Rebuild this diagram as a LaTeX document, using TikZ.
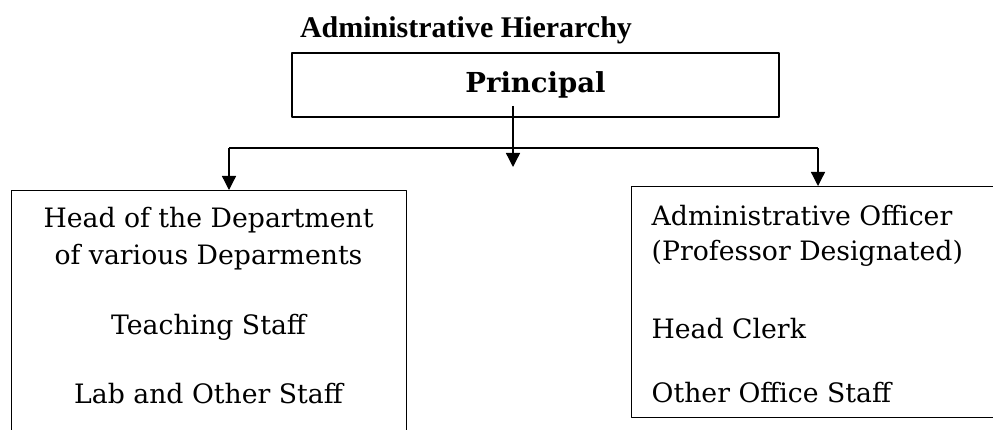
\documentclass[tikz,border=0pt]{standalone}
\usepackage{fontspec}
\setmainfont{DejaVu Serif}
\newfontfamily\titlefont{Liberation Serif}
\usetikzlibrary{arrows.meta,positioning}
\tikzset{
  panel/.style={draw,line width=1.2pt,inner sep=0pt},
  entry/.style={font=\fontsize{26.7}{30}\selectfont,inner sep=0pt,anchor=base},
}
\begin{document}
\begin{tikzpicture}[x=1pt,y=1pt,>={Triangle[width=14pt,length=14pt]},line join=round,line width=1.3pt]
\useasboundingbox (0,0) rectangle (993,429);
\clip (0,0) rectangle (993,429);
% title and top box
\node[inner sep=0pt,anchor=base,font=\titlefont\bfseries\fontsize{30}{34}\selectfont] (title) at (466,391.5) {Administrative Hierarchy};
\node[panel,minimum width=487pt,minimum height=64pt,font=\bfseries\fontsize{27.5}{30}\selectfont] (prin) at (535.5,344) {Principal};
% lower boxes, cut by the page edge
\node[panel,anchor=north west,minimum width=395pt,minimum height=280pt] (hod) at (11,239) {};
\node[panel,anchor=north west,minimum width=380pt,minimum height=231pt] (ao) at (631,243) {};
% left box text
\node[entry] (hod1) at (208.5,201) {Head of the Department};
\node[entry] (hod2) at (208.5,165) {of various Deparments};
\node[entry] (hod3) at (208.5,95) {Teaching Staff};
\node[entry] (hod4) at (208.5,26) {Lab and Other Staff};
% right box text
\node[entry,anchor=base west] (ao1) at (651,204) {Administrative Officer};
\node[entry,anchor=base west] (ao2) at (651,169) {(Professor Designated)};
\node[entry,anchor=base west] (ao3) at (651,91) {Head Clerk};
\node[entry,anchor=base west] (ao4) at (651,27) {Other Office Staff};
% connectors
\coordinate (drop) at (513,323);
\coordinate (droptip) at (513,262);
\coordinate (lbend) at (229,281);
\coordinate (rbend) at (818,281);
\draw[->] (drop) -- (droptip);
\draw (lbend) -- (rbend);
\draw[->] (lbend) -- (lbend |- hod.north);
\draw[->] (rbend) -- (rbend |- ao.north);
\end{tikzpicture}
\end{document}
